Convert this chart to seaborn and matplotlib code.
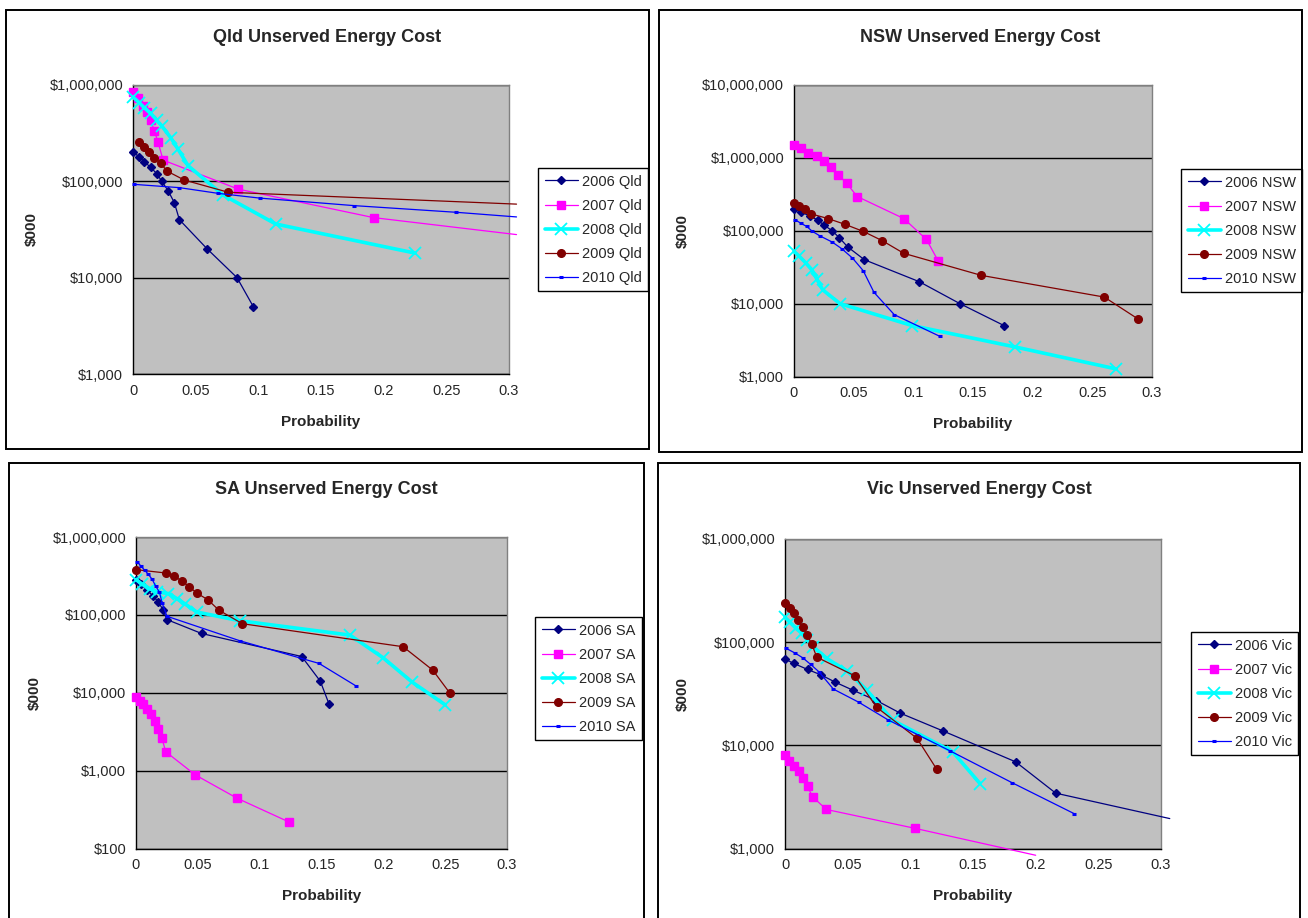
import numpy as np
import matplotlib
matplotlib.use("Agg")
import matplotlib.pyplot as plt
from matplotlib.lines import Line2D
from matplotlib.patches import Rectangle
from matplotlib.ticker import FuncFormatter, NullLocator
import seaborn as sns

# ---- data (probability vs unserved energy cost, $000) ----
YEARS = ["2006", "2007", "2008", "2009", "2010"]

QLD_X = [
    [0, 0.005, 0.009, 0.014, 0.019, 0.023, 0.028, 0.033, 0.037, 0.059, 0.083, 0.096],
    [0, 0.004, 0.008, 0.011, 0.014, 0.017, 0.020, 0.024, 0.084, 0.192, 0.306],
    [0, 0.005, 0.009, 0.014, 0.019, 0.023, 0.030, 0.036, 0.044, 0.072, 0.114, 0.225],
    [0.0045, 0.009, 0.013, 0.017, 0.022, 0.027, 0.041, 0.076, 0.306],
    [0.001, 0.037, 0.068, 0.101, 0.176, 0.258, 0.306],
]
QLD_Y = [
    [200000, 180000, 160000, 140000, 120000, 100000, 80000, 60000, 40000, 20000, 10000, 5000],
    [850000, 730000, 605000, 520000, 430000, 335000, 255000, 166000, 83000, 42000, 28000],
    [750000, 655000, 580000, 510000, 430000, 375000, 285000, 215000, 145000, 72000, 36000, 18000],
    [254000, 226000, 203000, 176000, 155000, 128000, 103000, 77000, 58000],
    [93000, 86000, 75000, 67000, 56000, 47700, 42700],
]

NSW_X = [
    [0, 0.006, 0.013, 0.020, 0.025, 0.032, 0.038, 0.045, 0.059, 0.105, 0.139, 0.176],
    [0, 0.006, 0.012, 0.019, 0.025, 0.031, 0.037, 0.044, 0.053, 0.092, 0.111, 0.121],
    [0, 0.0045, 0.010, 0.015, 0.019, 0.024, 0.0385, 0.099, 0.185, 0.270],
    [0, 0.0045, 0.0095, 0.014, 0.0285, 0.043, 0.058, 0.074, 0.092, 0.157, 0.260, 0.288],
    [0.001, 0.0056, 0.0106, 0.0154, 0.022, 0.032, 0.040, 0.049, 0.058, 0.067, 0.084, 0.122],
]
NSW_Y = [
    [200000, 180000, 160000, 140000, 120000, 100000, 80000, 60000, 40000, 20000, 10000, 5000],
    [1480000, 1360000, 1180000, 1050000, 920000, 760000, 590000, 450000, 295000, 147000, 76000, 38000],
    [52000, 44500, 36000, 29000, 22000, 15500, 10000, 5000, 2550, 1270],
    [244000, 222000, 198000, 171000, 147000, 122000, 98000, 73000, 49000, 24400, 12300, 6200],
    [141500, 127000, 114600, 98000, 84500, 70000, 56700, 42200, 28300, 14300, 7060, 3570],
]

SA_X = [
    [0, 0.004, 0.009, 0.014, 0.018, 0.022, 0.025, 0.053, 0.134, 0.149, 0.156],
    [0, 0.003, 0.006, 0.009, 0.012, 0.015, 0.018, 0.021, 0.024, 0.048, 0.082, 0.124],
    [0, 0.005, 0.011, 0.017, 0.026, 0.033, 0.040, 0.049, 0.084, 0.173, 0.200, 0.223, 0.250],
    [0, 0.024, 0.031, 0.037, 0.043, 0.049, 0.058, 0.067, 0.086, 0.216, 0.240, 0.254],
    [0.001, 0.004, 0.007, 0.010, 0.013, 0.016, 0.019, 0.021, 0.025, 0.084, 0.148, 0.178],
]
SA_Y = [
    [284000, 252000, 207000, 173000, 147000, 115000, 87000, 57700, 29200, 14100, 7230],
    [8700, 7900, 7100, 6100, 5300, 4400, 3400, 2600, 1750, 880, 440, 218],
    [284000, 247000, 218000, 197000, 188000, 162000, 137000, 109000, 84000, 55000, 28000, 13800, 7000],
    [381000, 345000, 313000, 273000, 231000, 191000, 157000, 115000, 77000, 39000, 19500, 9800],
    [478000, 424000, 374000, 332000, 287000, 233000, 195000, 144000, 96000, 46500, 23800, 12200],
]

VIC_X = [
    [0, 0.007, 0.018, 0.029, 0.040, 0.054, 0.073, 0.092, 0.126, 0.184, 0.216, 0.307],
    [0, 0.003, 0.007, 0.011, 0.014, 0.018, 0.022, 0.033, 0.1035, 0.200],
    [0, 0.004, 0.0088, 0.0133, 0.0178, 0.0226, 0.0332, 0.0497, 0.0652, 0.0859, 0.1338, 0.1556],
    [0, 0.0037, 0.0072, 0.0104, 0.0141, 0.0178, 0.0215, 0.0253, 0.0556, 0.0731, 0.1053, 0.121],
    [0.001, 0.008, 0.0141, 0.0205, 0.0271, 0.0386, 0.059, 0.0824, 0.1316, 0.1809, 0.2306],
]
VIC_Y = [
    [68600, 62200, 54400, 48000, 41000, 34300, 27200, 20500, 13800, 6920, 3440, 1950],
    [7980, 7080, 6330, 5620, 4770, 3990, 3170, 2390, 1570, 860],
    [174000, 155600, 136000, 122000, 105000, 90000, 69600, 52500, 34300, 17500, 8650, 4260],
    [238000, 213000, 192000, 164000, 140000, 117000, 95000, 71600, 47200, 23400, 11700, 5880],
    [87000, 78400, 70600, 60800, 51600, 35100, 26100, 17600, 8850, 4360, 2180],
]

# ---- styles (Excel default series look) ----
COLORS = ["#000080", "#FF00FF", "#00FFFF", "#800000", "#0000FF"]
MARKERS = ["D", "s", "x", "o", "_"]
MSIZE = [4.2, 5.5, 8.5, 5.5, 3.5]
MEW = [1, 1, 1.3, 1, 2.2]
LWS = [0.9, 0.9, 2.6, 0.9, 0.9]

W, H = 1308, 918


def fx(px):
    return px / W


def fy(py):
    return 1 - py / H


sns.set_style("white")
plt.rcParams["font.family"] = ["Liberation Sans", "DejaVu Sans"]

fig = plt.figure(figsize=(W / 100, H / 100), dpi=100)
fig.patch.set_facecolor("white")


def draw_panel(name, xs, ys, ax_box, frame, ylim, title_y, xlabel_y, ylabel_x, legend_xy):
    x0, y0, x1, y1 = ax_box
    ax = fig.add_axes([fx(x0), fy(y1), fx(x1) - fx(x0), fy(y0) - fy(y1)])
    ax.set_facecolor("#C0C0C0")
    ax.set_yscale("log")

    for i, year in enumerate(YEARS):
        x = np.asarray(xs[i], dtype=float)
        y = np.asarray(ys[i], dtype=float)
        # no marker on the bits that run just past the plot area
        inside = list((x <= 0.3001) & (y >= ylim[0]))
        sns.lineplot(x=x, y=y, ax=ax, sort=False, estimator=None,
                     color=COLORS[i], lw=LWS[i], marker=MARKERS[i],
                     ms=MSIZE[i], mew=MEW[i], mec=COLORS[i], mfc=COLORS[i],
                     markevery=inside, clip_on=False, zorder=3 + i)

    ax.set_xlim(0, 0.3)
    ax.set_ylim(*ylim)
    ax.set_xticks(np.linspace(0, 0.3, 7))
    ax.xaxis.set_major_formatter(FuncFormatter(lambda v, p: f"{v:g}"))
    decades = 10.0 ** np.arange(np.log10(ylim[0]), np.log10(ylim[1]) + 1)
    ax.set_yticks(decades)
    ax.yaxis.set_minor_locator(NullLocator())
    ax.yaxis.set_major_formatter(FuncFormatter(lambda v, p: f"${v:,.0f}"))
    ax.set_xlabel("")
    ax.set_ylabel("")
    ax.tick_params(direction="out", length=4, width=1, color="black",
                   labelsize=10.5, pad=3)
    ax.yaxis.grid(True, color="black", lw=1)
    ax.xaxis.grid(False)
    ax.set_axisbelow(True)
    for side in ["left", "bottom"]:
        ax.spines[side].set_color("black")
        ax.spines[side].set_linewidth(1)
    for side in ["top", "right"]:
        ax.spines[side].set_color("#808080")
        ax.spines[side].set_linewidth(1)
        ax.spines[side].set_visible(True)

    fl, ft, fr, fb = frame
    fig.add_artist(Rectangle((fx(fl), fy(fb)), fx(fr) - fx(fl), fy(ft) - fy(fb),
                             transform=fig.transFigure, fill=False,
                             ec="black", lw=1.4))

    fig.text(fx((fl + fr) / 2), fy(title_y), f"{name} Unserved Energy Cost",
             ha="center", va="center", fontsize=13, fontweight="bold")
    fig.text(fx((x0 + x1) / 2), fy(xlabel_y), "Probability",
             ha="center", va="center", fontsize=11, fontweight="bold")
    fig.text(fx(ylabel_x), fy((y0 + y1) / 2), "$000", rotation=90,
             ha="center", va="center", fontsize=11, fontweight="bold")

    handles = [Line2D([], [], color=COLORS[i], lw=LWS[i], marker=MARKERS[i],
                      ms=MSIZE[i], mew=MEW[i], mec=COLORS[i], mfc=COLORS[i])
               for i in range(len(YEARS))]
    labels = [f"{yr} {name}" for yr in YEARS]
    leg = ax.legend(handles, labels, loc="upper left",
                    bbox_to_anchor=(fx(legend_xy[0]), fy(legend_xy[1])),
                    bbox_transform=fig.transFigure, frameon=True, fancybox=False,
                    edgecolor="black", framealpha=1, fontsize=10.5,
                    handlelength=2.3, handletextpad=0.25, labelspacing=0.69,
                    borderpad=0.45, borderaxespad=0)
    leg.get_frame().set_linewidth(1)
    return ax


draw_panel("Qld", QLD_X, QLD_Y, (133, 85, 509, 374), (6, 10, 649, 449),
           (1e3, 1e6), 37, 422, 32, (538, 168))
draw_panel("NSW", NSW_X, NSW_Y, (794, 85, 1152, 376.5), (659, 10, 1302, 452),
           (1e3, 1e7), 37, 424, 683, (1181, 169))
draw_panel("SA", SA_X, SA_Y, (136, 537, 507, 848.5), (9, 463, 644, 930),
           (1e2, 1e6), 489, 896, 35, (535, 617))
draw_panel("Vic", VIC_X, VIC_Y, (785, 539, 1161, 848.5), (658, 463, 1300, 930),
           (1e3, 1e6), 489, 896, 683, (1191, 632))

fig.savefig("out.png", dpi=100)
